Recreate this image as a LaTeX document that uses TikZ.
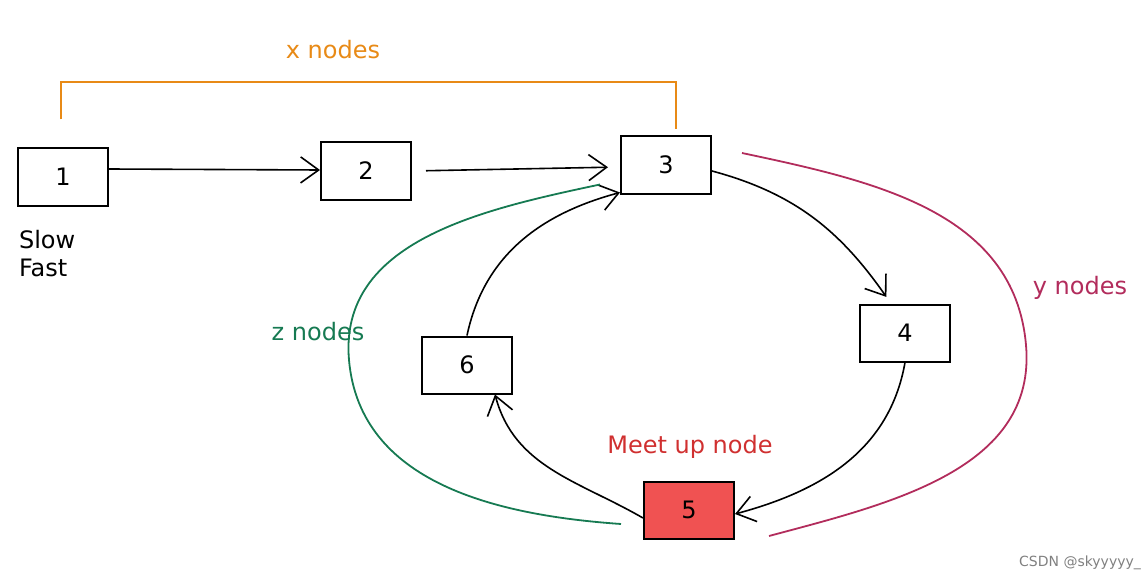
\documentclass[tikz,border=0pt]{standalone}
\usepackage{fontspec}
\setmainfont{DejaVu Sans}
\usetikzlibrary{arrows.meta}
\definecolor{xorange}{RGB}{232,138,22}
\definecolor{ycrimson}{RGB}{178,44,92}
\definecolor{zgreen}{RGB}{22,122,82}
\definecolor{meetred}{RGB}{208,48,48}
\definecolor{meetfill}{RGB}{240,82,82}

\begin{document}
\begin{tikzpicture}[x=0.5pt, y=-0.5pt,
      every node/.style = {font=\fontsize{12}{14}\selectfont},
      cell/.style = {shape=rectangle, draw, line width=1pt,
        minimum width=45pt, minimum height=28.5pt, inner sep=0pt},
      link/.style = {line width=0.8pt, -{Straight Barb[length=9pt, width=13pt, line width=0.8pt]}},
      span/.style = {line width=0.9pt}]
  \useasboundingbox (0,0) rectangle (1146,583);
  % the list
  \node[cell] (n1) at (63,177) {1};
  \node[cell] (n2) at (366,171) {2};
  \node[cell] (n3) at (666,165) {3};
  \node[cell] (n4) at (905,333) {4};
  \node[cell, fill=meetfill] (n5) at (689,510) {5};
  \node[cell] (n6) at (467,365) {6};
  \draw[link] ([yshift=4pt]n1.east) -- ([yshift=0.5pt]n2.west);
  \draw[link, shorten <=7pt, shorten >=6pt] (n2.east) -- ([yshift=-1pt]n3.west);
  \draw[link, shorten >=4pt] ([yshift=-3pt]n3.east) to[out=-15, in=125] ([xshift=-7pt]n4.north);
  \draw[link] (n4.south) to[out=-100, in=15] ([yshift=-2pt]n5.east);
  \draw[link] ([yshift=-4pt]n5.west) to[out=150, in=-75] ([xshift=14pt]n6.south);
  \draw[link] (n6.north) to[out=78, in=195] ([yshift=1pt]n3.south west);
  % labels
  \node[text=xorange] (xl) at (333,50) {x nodes};
  \node[anchor=west] (slow) at (12,240) {Slow};
  \node[anchor=west] (fast) at (12,268) {Fast};
  \node[text=zgreen] (zl) at (318,332) {z nodes};
  \node[text=ycrimson] (yl) at (1080,288) {y nodes};
  \node[text=meetred] (ml) at (690,447) {Meet up node};
  \node[text=gray, font=\fontsize{7}{8}\selectfont] (wm) at (1080,563) {CSDN @skyyyyy\_};
  % x nodes bracket
  \coordinate (xa) at ([xshift=-1pt,yshift=14pt]n1.north);
  \coordinate (xb) at ([xshift=5pt,yshift=3pt]n3.north);
  \draw[span, xorange] (xa) |- (676,82) -- (xb);
  % z nodes arc
  \coordinate (zs) at ([xshift=-11pt,yshift=-7pt]n5.west);
  \coordinate (zm) at (349,360);
  \coordinate (ze) at ([xshift=-10pt,yshift=5pt]n3.south west);
  \draw[span, zgreen] (zs) to[out=176, in=-85] (zm) to[out=95, in=192] (ze);
  % y nodes arc
  \coordinate (ys) at ([xshift=15pt,yshift=6pt]n3.east);
  \coordinate (ym) at (1026,345);
  \coordinate (ye) at ([xshift=17pt,yshift=-13pt]n5.east);
  \draw[span, ycrimson] (ys) to[out=-12, in=95] (ym) to[out=-85, in=15] (ye);
\end{tikzpicture}
\end{document}
